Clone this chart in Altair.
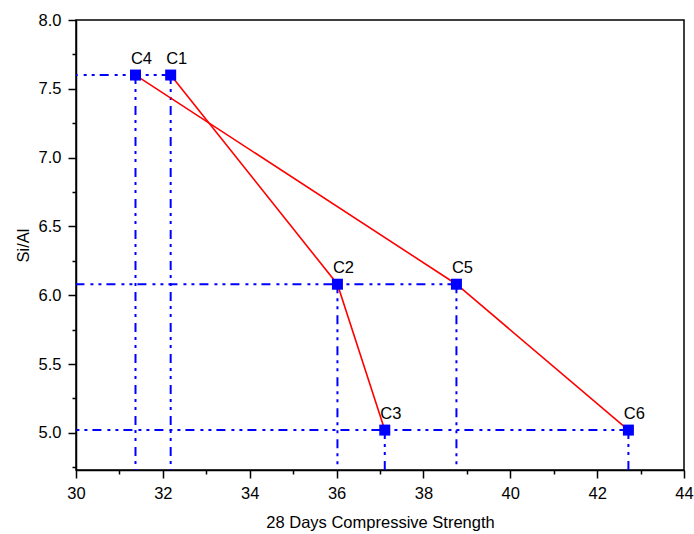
import altair as alt
import pandas as pd

labels = ["C1", "C2", "C3", "C4", "C5", "C6"]
strength = [32.18, 36.02, 37.11, 31.37, 38.76, 42.72]
si_al = [7.60, 6.08, 5.02, 7.60, 6.08, 5.02]
series = ["A", "A", "A", "B", "B", "B"]

x_ticks = list(range(30, 45))
y_ticks = [4.75 + 0.25 * i for i in range(14)]

df = pd.DataFrame({"label": labels, "x": strength, "y": si_al, "s": series})
hdf = df.groupby("y", as_index=False)["x"].max()

W, H = 608, 450
FONT = "Liberation Sans"
FS = 16.5
DASH = [9, 5, 3, 5, 3, 6]

xscale = alt.Scale(domain=[30, 44], nice=False, zero=False)
yscale = alt.Scale(domain=[4.73, 8.0], nice=False, zero=False)

xaxis = alt.Axis(
    values=x_ticks,
    labelExpr="datum.value % 2 === 0 ? datum.label : ''",
    tickSize={"condition": {"test": "datum.value % 2 === 0", "value": 8}, "value": 4},
    title="28 Days Compressive Strength",
    grid=False,
    labelFlush=False,
)
yaxis = alt.Axis(
    values=y_ticks,
    format=".1f",
    labelExpr="(datum.value * 2) % 1 === 0 ? datum.label : ''",
    tickSize={"condition": {"test": "(datum.value * 2) % 1 === 0", "value": 8}, "value": 4},
    title="Si/Al",
    grid=False,
    labelFlush=False,
)

X = alt.X("x:Q", scale=xscale, axis=xaxis)
Y = alt.Y("y:Q", scale=yscale, axis=yaxis)

base = alt.Chart(df)

hlines = alt.Chart(hdf).mark_rule(color="#0000FF", strokeWidth=2, strokeDash=DASH).encode(
    x=X, x2=alt.value(0), y=Y
)
vlines = base.mark_rule(color="#0000FF", strokeWidth=2, strokeDash=DASH).encode(
    x=X, y=Y, y2=alt.value(H)
)
lines = base.mark_line(color="#FF0000", strokeWidth=1.6).encode(
    x=X, y=Y, detail="s:N", order="label:N"
)
points = base.mark_square(color="#0000FF", size=121, opacity=1, filled=True).encode(x=X, y=Y)
text = base.mark_text(font=FONT, fontSize=FS, dx=6, dy=-11.5, baseline="alphabetic",
                      align="center", color="black").encode(
    x=X, y=Y, text="label:N"
)

chart = alt.layer(hlines, vlines, lines, points, text).properties(
    width=W, height=H,
    autosize=alt.AutoSizeParams(type="none"),
    padding={"left": 76, "top": 20, "right": 10, "bottom": 64},
    background="white",
).configure_view(
    stroke="black", strokeWidth=1.5
).configure_axis(
    labelFont=FONT, titleFont=FONT, labelFontSize=FS, titleFontSize=FS,
    labelColor="black", titleColor="black", titleFontWeight="normal",
    domainColor="black", domainWidth=1.5, tickColor="black", tickWidth=1.5,
).configure_axisX(
    labelPadding=7, titlePadding=13
).configure_axisY(
    labelPadding=7, titlePadding=7
)

chart.save("out.html", embed_options={"renderer": "svg", "actions": False})
